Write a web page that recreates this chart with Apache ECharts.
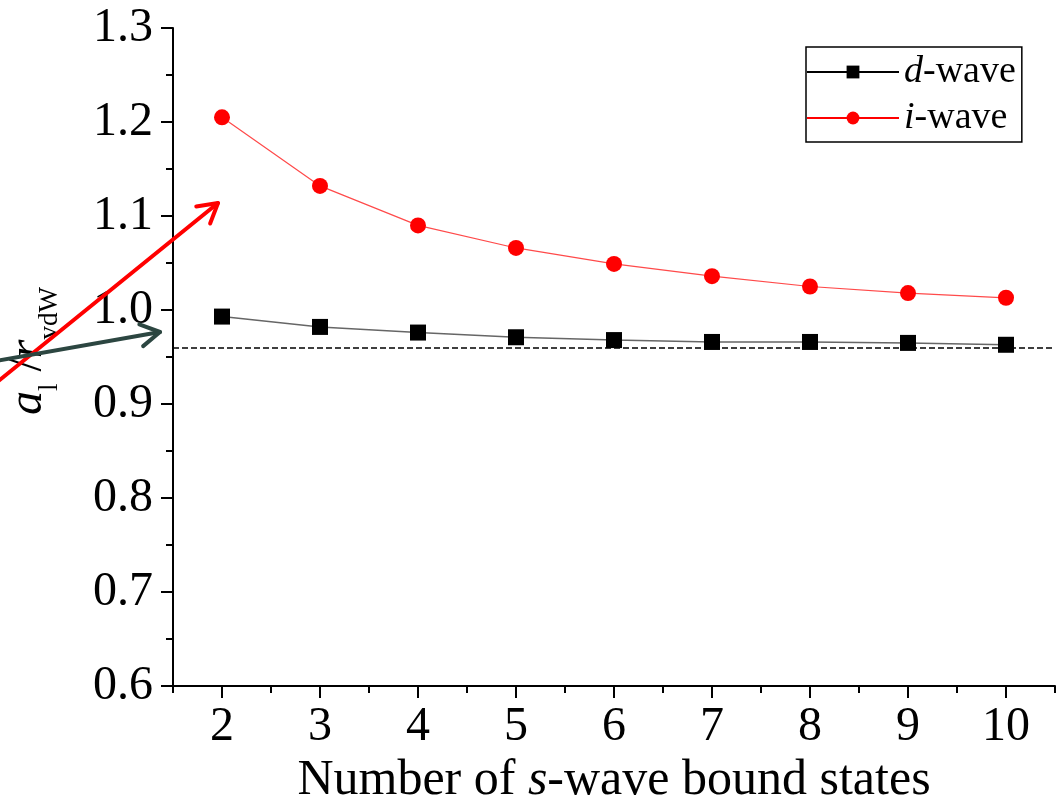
<!DOCTYPE html>
<html>
<head>
<meta charset="utf-8">
<script src="https://cdn.jsdelivr.net/npm/echarts@6/dist/echarts.min.js"></script>
<style>
  html, body { margin: 0; padding: 0; background: #fff; }
  #chart { width: 1062px; height: 799px; }
</style>
</head>
<body>
<div id="chart"></div>
<script>
// number of s-wave bound states
const states = [2, 3, 4, 5, 6, 7, 8, 9, 10];
// a_l / r_vdW
const dWave = [0.993, 0.982, 0.976, 0.971, 0.968, 0.966, 0.966, 0.965, 0.963];
const iWave = [1.205, 1.132, 1.090, 1.066, 1.049, 1.036, 1.025, 1.018, 1.013];
// dashed reference level
const limitLevel = 0.956;
const majorX = [2, 3, 4, 5, 6, 7, 8, 9, 10];
const minorX = [1.5, 2.5, 3.5, 4.5, 5.5, 6.5, 7.5, 8.5, 9.5, 10.5];

const FONT = '"Liberation Serif", "DejaVu Serif", serif';

const pairs = (ys) => states.map((x, i) => [x, ys[i]]);

// arrow annotation: line plus open head
function arrow(x1, y1, x2, y2, color) {
  const ang = Math.atan2(y2 - y1, x2 - x1);
  const len = 22, spread = Math.PI / 6;
  const p1 = [x2 - len * Math.cos(ang - spread), y2 - len * Math.sin(ang - spread)];
  const p2 = [x2 - len * Math.cos(ang + spread), y2 - len * Math.sin(ang + spread)];
  const style = { stroke: color, lineWidth: 4, lineCap: 'round', lineJoin: 'round', fill: null };
  return [
    { type: 'line', z: 100, shape: { x1: x1, y1: y1, x2: x2, y2: y2 }, style: style },
    { type: 'polyline', z: 100, shape: { points: [p1, [x2, y2], p2] }, style: style }
  ];
}

const chart = echarts.init(document.getElementById('chart'));

const option = {
  animation: false,
  backgroundColor: '#fff',
  textStyle: { fontFamily: FONT },
  grid: { left: 173, top: 28, right: 7, bottom: 113, containLabel: false, outerBoundsMode: 'none' },
  legend: {
    orient: 'vertical',
    left: 806,
    top: 47,
    padding: [6, 6, 5, 0],
    itemGap: 8,
    itemWidth: 92,
    itemHeight: 16,
    borderColor: '#000',
    borderWidth: 1.5,
    textStyle: {
      fontFamily: FONT, fontSize: 38, color: '#000', lineHeight: 38,
      rich: { it: { fontFamily: FONT, fontSize: 38, fontStyle: 'italic', color: '#000', lineHeight: 38 } }
    },
    formatter: (name) => '{it|' + name.split('-')[0] + '}-wave',
    data: [
      { name: 'd-wave', lineStyle: { color: '#000', width: 2 } },
      { name: 'i-wave', lineStyle: { color: '#ff0000', width: 2 } }
    ]
  },
  xAxis: [
    {
      type: 'value',
      min: 1.5,
      max: 10.5,
      name: 'Number of {it|s}-wave bound states',
      nameLocation: 'middle',
      nameGap: 62,
      nameTextStyle: {
        fontFamily: FONT, fontSize: 50, color: '#000',
        rich: { it: { fontFamily: FONT, fontSize: 50, fontStyle: 'italic', color: '#000' } }
      },
      axisLine: { show: true, onZero: false, lineStyle: { color: '#000', width: 2 } },
      axisTick: { show: true, customValues: majorX, length: 12, lineStyle: { color: '#000', width: 2 } },
      axisLabel: { customValues: majorX, margin: 17, fontFamily: FONT, fontSize: 48, color: '#000' },
      splitLine: { show: false }
    },
    {
      type: 'value',
      min: 1.5,
      max: 10.5,
      position: 'bottom',
      axisLine: { show: false },
      axisTick: { show: true, customValues: minorX, length: 7, lineStyle: { color: '#000', width: 2 } },
      axisLabel: { show: false },
      splitLine: { show: false }
    }
  ],
  yAxis: {
    type: 'value',
    min: 0.6,
    max: 1.3,
    interval: 0.1,
    name: '{it|a}{sub|l}{n| /}{it|r}{sub|vdW}',
    nameLocation: 'middle',
    nameGap: 110,
    nameTextStyle: {
      fontFamily: FONT, fontSize: 48, color: '#000',
      padding: [0, 0, 0, 12],
      rich: {
        it: { fontFamily: FONT, fontSize: 48, fontStyle: 'italic', color: '#000', lineHeight: 70, verticalAlign: 'middle' },
        n: { fontFamily: FONT, fontSize: 48, color: '#000', lineHeight: 70, verticalAlign: 'middle' },
        sub: { fontFamily: FONT, fontSize: 27, color: '#000', lineHeight: 27, verticalAlign: 'bottom' }
      }
    },
    axisLine: { show: true, lineStyle: { color: '#000', width: 2 } },
    axisTick: { show: true, length: 12, lineStyle: { color: '#000', width: 2 } },
    minorTick: { show: true, splitNumber: 2, length: 7, lineStyle: { color: '#000', width: 2 } },
    axisLabel: {
      margin: 20, fontFamily: FONT, fontSize: 48, color: '#000',
      formatter: (v) => v.toFixed(1)
    },
    splitLine: { show: false }
  },
  series: [
    {
      name: 'd-wave',
      type: 'line',
      data: pairs(dWave),
      symbol: 'rect',
      symbolSize: 16,
      itemStyle: { color: '#000' },
      lineStyle: { color: '#666', width: 1.5 },
      markLine: {
        silent: true,
        symbol: 'none',
        label: { show: false },
        lineStyle: { color: '#000', type: [6, 3], width: 1.5 },
        data: [{ yAxis: limitLevel }]
      }
    },
    {
      name: 'i-wave',
      type: 'line',
      data: pairs(iWave),
      symbol: 'circle',
      symbolSize: 16,
      itemStyle: { color: '#ff0000' },
      lineStyle: { color: '#ff4a4a', width: 1.2 }
    }
  ],
  graphic: [].concat(
    arrow(-4, 383, 218, 203, '#ff0000'),
    arrow(-4, 361, 160, 332, '#2c4641')
  )
};

chart.setOption(option);
</script>
</body>
</html>
